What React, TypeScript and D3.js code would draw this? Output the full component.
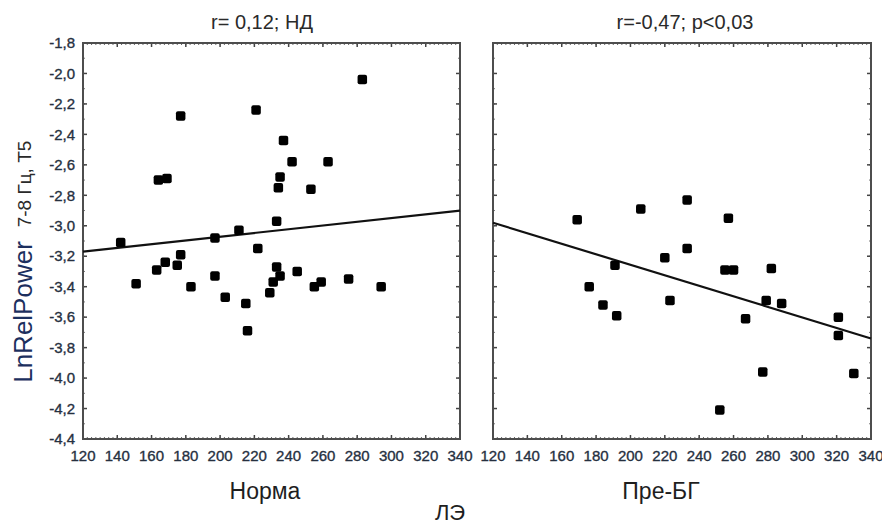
import React from 'react';
import * as d3 from 'd3';

// ЛЭ vs LnRelPower 7-8 Hz, T5 — two groups
const normaX = [283, 221, 177, 237, 242, 263, 235, 234, 253, 164, 169, 233, 211, 197, 142, 222, 177, 168, 163, 175, 151, 183, 197, 203, 215, 216, 233, 235, 231, 229, 245, 255, 259, 275, 294];
const normaY = [-2.04, -2.24, -2.28, -2.44, -2.58, -2.58, -2.68, -2.75, -2.76, -2.70, -2.69, -2.97, -3.03, -3.08, -3.11, -3.15, -3.19, -3.24, -3.29, -3.26, -3.38, -3.40, -3.33, -3.47, -3.51, -3.69, -3.27, -3.33, -3.37, -3.44, -3.30, -3.40, -3.37, -3.35, -3.40];

const preBgX = [169, 206, 233, 257, 233, 220, 191, 176, 184, 192, 223, 255, 260, 282, 279, 288, 267, 321, 321, 277, 330, 252];
const preBgY = [-2.96, -2.89, -2.83, -2.95, -3.15, -3.21, -3.26, -3.40, -3.52, -3.59, -3.49, -3.29, -3.29, -3.28, -3.49, -3.51, -3.61, -3.60, -3.72, -3.96, -3.97, -4.21];

// fitted lines, read at x = 120 and x = 340
const fitX = [120, 340];
const normaFitY = [-3.17, -2.90];
const preBgFitY = [-2.98, -3.74];

const xTicks = [120, 140, 160, 180, 200, 220, 240, 260, 280, 300, 320, 340];
const yTicks = [-1.8, -2.0, -2.2, -2.4, -2.6, -2.8, -3.0, -3.2, -3.4, -3.6, -3.8, -4.0, -4.2, -4.4];

const titles = ['r= 0,12; НД', 'r=-0,47; p<0,03'];
const groupNames = ['Норма', 'Пре-БГ'];

const font = '"Liberation Sans", Arial, sans-serif';
const top = 43;
const bottom = 439;

const fmt = (v: number) => d3.format('.1f')(v).replace('.', ',').replace('−', '-');

function Panel(props: any) {
  const { left, right, xs, ys, fit, title, titleX, name, nameX, showY } = props;
  const x = d3.scaleLinear().domain([120, 340]).range([left, right]);
  const y = d3.scaleLinear().domain([-4.4, -1.8]).range([bottom, top]);
  const line = d3.line<number>().x((d) => x(d)).y((d, i) => y(fit[i]));
  const minorX = d3.range(120, 341, 2.5);
  const minorY = d3.range(-4.4, -1.79, 0.1);

  return (
    <g>
      <text x={titleX} y={29} textAnchor="middle" fontFamily={font} fontSize={20} fill="#2a2a2a">{title}</text>
      {minorX.map((v, i) => (
        <g key={'mx' + i} stroke="#666" strokeWidth={1}>
          <line x1={x(v)} x2={x(v)} y1={top} y2={top + 2} />
          <line x1={x(v)} x2={x(v)} y1={bottom} y2={bottom - 2} />
        </g>
      ))}
      {minorY.map((v, i) => (
        <g key={'my' + i} stroke="#777" strokeWidth={1}>
          <line x1={left} x2={left + 2} y1={y(v)} y2={y(v)} />
          <line x1={right} x2={right - 2} y1={y(v)} y2={y(v)} />
        </g>
      ))}
      {xTicks.map((v) => (
        <g key={'x' + v}>
          <line x1={x(v)} x2={x(v)} y1={top} y2={top + 4} stroke="#444" strokeWidth={1.5} />
          <line x1={x(v)} x2={x(v)} y1={bottom} y2={bottom - 4} stroke="#444" strokeWidth={1.5} />
          <text x={x(v)} y={461} textAnchor="middle" fontFamily={font} fontSize={15} fill="#26303f" stroke="#26303f" strokeWidth={0.35}>{v}</text>
        </g>
      ))}
      {yTicks.map((v) => (
        <g key={'y' + v}>
          <line x1={left} x2={left + 4} y1={y(v)} y2={y(v)} stroke="#444" strokeWidth={1.5} />
          <line x1={right} x2={right - 4} y1={y(v)} y2={y(v)} stroke="#444" strokeWidth={1.5} />
          {showY && (
            <text x={left - 8} y={y(v)} dy="0.35em" textAnchor="end" fontFamily={font} fontSize={15} fill="#26303f" stroke="#26303f" strokeWidth={0.35}>{fmt(v)}</text>
          )}
        </g>
      ))}
      <rect x={left} y={top} width={right - left} height={bottom - top} fill="none" stroke="#4d4d4d" strokeWidth={2} />
      <path d={line(fitX) || ''} fill="none" stroke="#111" strokeWidth={2.2} />
      {xs.map((v: number, i: number) => (
        <rect key={i} x={x(v) - 4.75} y={y(ys[i]) - 4.75} width={9.5} height={9.5} rx={2} fill="#000" />
      ))}
      <text x={nameX} y={499} textAnchor="middle" fontFamily={font} fontSize={23} fill="#1e1e1e">{name}</text>
    </g>
  );
}

export default function App() {
  return (
    <svg width={882} height={525} style={{ position: 'absolute', left: 0, top: 0, background: '#fff' }}>
      <Panel left={83} right={460} xs={normaX} ys={normaY} fit={normaFitY} title={titles[0]} titleX={262} name={groupNames[0]} nameX={265} showY={true} />
      <Panel left={493} right={871} xs={preBgX} ys={preBgY} fit={preBgFitY} title={titles[1]} titleX={685} name={groupNames[1]} nameX={661} showY={false} />
      <text transform="translate(32,312) rotate(-90)" textAnchor="middle" fontFamily={font} fontSize={26} fill="#1c2f5e">LnRelPower</text>
      <text transform="translate(31,184) rotate(-90)" textAnchor="middle" fontFamily={font} fontSize={19} fill="#2a2a2a">7-8 Гц, Т5</text>
      <text x={450} y={520} textAnchor="middle" fontFamily={font} fontSize={22} fill="#1e1e1e">ЛЭ</text>
    </svg>
  );
}
